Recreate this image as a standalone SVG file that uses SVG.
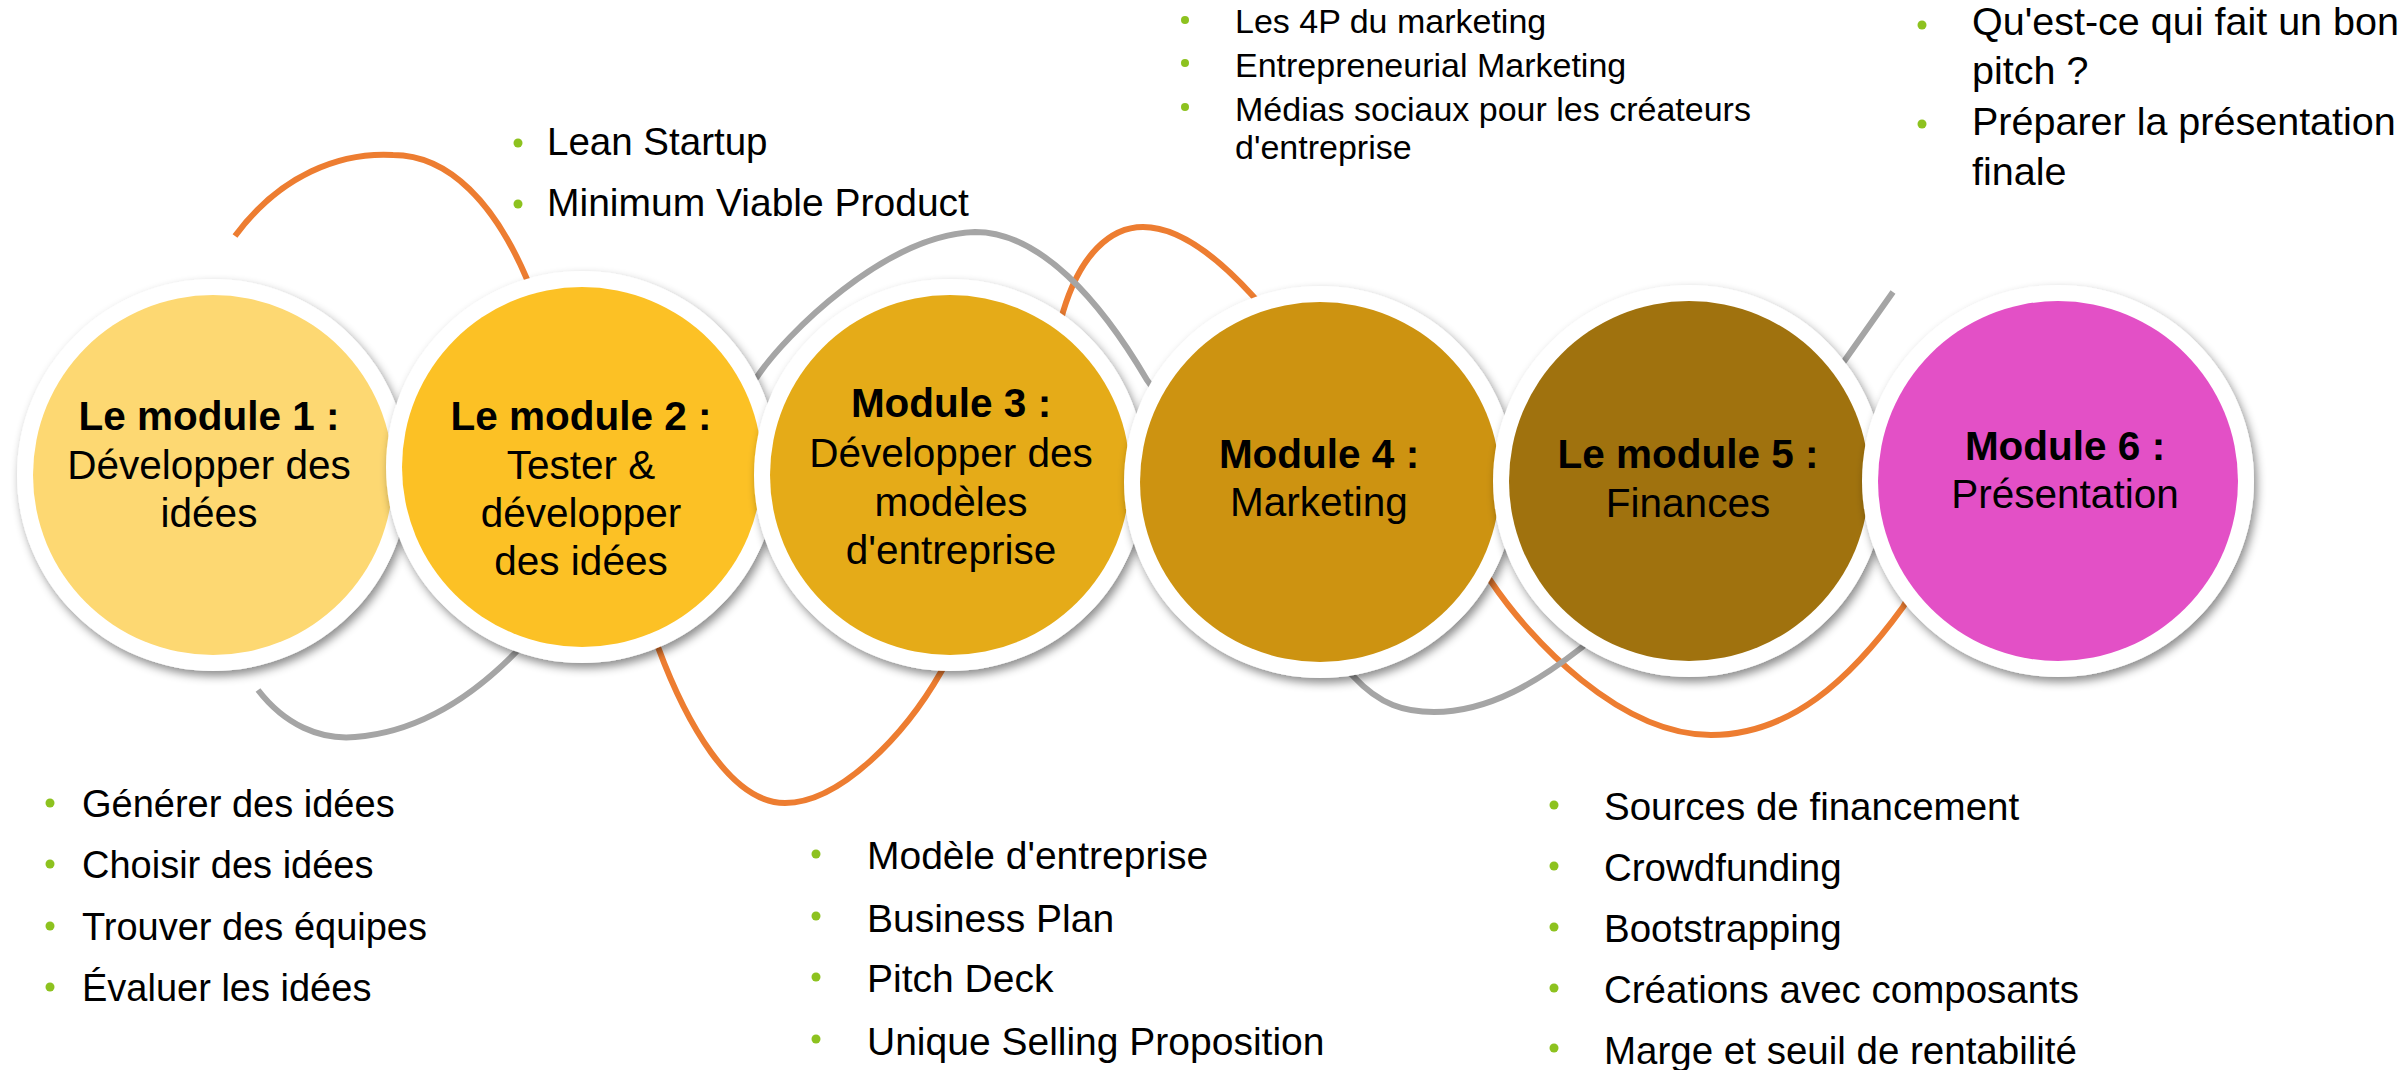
<svg xmlns="http://www.w3.org/2000/svg" width="2402" height="1070" viewBox="0 0 2402 1070">
<defs>
<filter id="sh" x="-20%" y="-20%" width="140%" height="140%">
<feDropShadow dx="3" dy="5" stdDeviation="5" flood-color="#000" flood-opacity="0.45"/>
</filter>
<style>
.ring{fill:#fff;filter:url(#sh)}
.t{font-family:"Liberation Sans",Arial,sans-serif;fill:#000}
.c{font-size:40.5px;text-anchor:middle}
.b{font-weight:bold}
.bul{fill:#8DC21F}
.orange{fill:none;stroke:#ED7D31;stroke-width:6}
.gray{fill:none;stroke:#A5A5A5;stroke-width:6}
</style>
</defs>
<rect width="2402" height="1070" fill="#fff"/>

<g id="connectors">
<path class="orange" d="M235,236 C280,175 340,152 393,155 C450,155 495,205 526,277 C560,357 628,582 658,647 C685,720 730,803 785,803 C840,803 905,735 941,672 C990,590 1040,400 1063,312 C1080,255 1110,227 1143,227 C1180,227 1220,260 1252,295 C1320,370 1440,500 1490,580 C1530,640 1620,735 1711,735 C1790,735 1850,680 1903,607 L1930,560"/>
<path class="gray" d="M258,690 C285,725 320,740 355,737 C420,732 475,695 520,648 C600,570 700,440 757,377 C785,335 885,235 975,232 C1040,232 1100,300 1147,380 C1220,480 1300,620 1354,677 C1380,705 1405,712 1434,712 C1490,712 1540,680 1581,648 C1650,590 1790,440 1845,360 L1893,292"/>
</g>

<g id="module1">
<circle class="ring" cx="213" cy="475" r="196"/>
<circle cx="213" cy="475" r="180" fill="#FDD872"/>
<text class="t c"><tspan class="b" x="209" y="430">Le module 1 :</tspan><tspan x="209" y="479">Développer des</tspan><tspan x="209" y="527">idées</tspan></text>
</g>
<g id="module2">
<circle class="ring" cx="582" cy="467" r="196"/>
<circle cx="582" cy="467" r="180" fill="#FCC125"/>
<text class="t c"><tspan class="b" x="581" y="430">Le module 2 :</tspan><tspan x="581" y="479">Tester &amp;</tspan><tspan x="581" y="527">développer</tspan><tspan x="581" y="575">des idées</tspan></text>
</g>
<g id="module3">
<circle class="ring" cx="950" cy="475" r="196"/>
<circle cx="950" cy="475" r="180" fill="#E5AB18"/>
<text class="t c"><tspan class="b" x="951" y="417">Module 3 :</tspan><tspan x="951" y="467">Développer des</tspan><tspan x="951" y="516">modèles</tspan><tspan x="951" y="564">d'entreprise</tspan></text>
</g>
<g id="module4">
<circle class="ring" cx="1320" cy="482" r="196"/>
<circle cx="1320" cy="482" r="180" fill="#CD9311"/>
<text class="t c"><tspan class="b" x="1319" y="468">Module 4 :</tspan><tspan x="1319" y="516">Marketing</tspan></text>
</g>
<g id="module5">
<circle class="ring" cx="1689" cy="481" r="196"/>
<circle cx="1689" cy="481" r="180" fill="#A0720E"/>
<text class="t c"><tspan class="b" x="1688" y="468">Le module 5 :</tspan><tspan x="1688" y="517">Finances</tspan></text>
</g>
<g id="module6">
<circle class="ring" cx="2058" cy="481" r="196"/>
<circle cx="2058" cy="481" r="180" fill="#E350C6"/>
<text class="t c"><tspan class="b" x="2065" y="460">Module 6 :</tspan><tspan x="2065" y="508">Présentation</tspan></text>
</g>

<g id="list1">
<circle class="bul" cx="50" cy="803" r="4.5"/>
<circle class="bul" cx="50" cy="864" r="4.5"/>
<circle class="bul" cx="50" cy="926" r="4.5"/>
<circle class="bul" cx="50" cy="987" r="4.5"/>
<text class="t" font-size="38" x="82" y="817">Générer des idées</text>
<text class="t" font-size="38" x="82" y="878">Choisir des idées</text>
<text class="t" font-size="38" x="82" y="940">Trouver des équipes</text>
<text class="t" font-size="38" x="82" y="1001">Évaluer les idées</text>
</g>

<g id="list2">
<circle class="bul" cx="518" cy="143" r="4.5"/>
<circle class="bul" cx="518" cy="204" r="4.5"/>
<text class="t" font-size="38.5" x="547" y="155">Lean Startup</text>
<text class="t" font-size="39" x="547" y="216">Minimum Viable Product</text>
</g>

<g id="list3">
<circle class="bul" cx="816" cy="854" r="4.5"/>
<circle class="bul" cx="816" cy="916" r="4.5"/>
<circle class="bul" cx="816" cy="977" r="4.5"/>
<circle class="bul" cx="816" cy="1039" r="4.5"/>
<text class="t" font-size="39" x="867" y="869">Modèle d'entreprise</text>
<text class="t" font-size="39" x="867" y="932">Business Plan</text>
<text class="t" font-size="39" x="867" y="992">Pitch Deck</text>
<text class="t" font-size="39" x="867" y="1055">Unique Selling Proposition</text>
</g>

<g id="list4">
<circle class="bul" cx="1185" cy="20" r="4"/>
<circle class="bul" cx="1185" cy="63" r="4"/>
<circle class="bul" cx="1185" cy="107" r="4"/>
<text class="t" font-size="34" x="1235" y="33">Les 4P du marketing</text>
<text class="t" font-size="34" x="1235" y="77">Entrepreneurial Marketing</text>
<text class="t" font-size="34" x="1235" y="121">Médias sociaux pour les créateurs</text>
<text class="t" font-size="34" x="1235" y="159">d'entreprise</text>
</g>

<g id="list5">
<circle class="bul" cx="1554" cy="805" r="4.5"/>
<circle class="bul" cx="1554" cy="866" r="4.5"/>
<circle class="bul" cx="1554" cy="927" r="4.5"/>
<circle class="bul" cx="1554" cy="988" r="4.5"/>
<circle class="bul" cx="1554" cy="1048" r="4.5"/>
<text class="t" font-size="38.5" x="1604" y="820">Sources de financement</text>
<text class="t" font-size="38.5" x="1604" y="881">Crowdfunding</text>
<text class="t" font-size="38.5" x="1604" y="942">Bootstrapping</text>
<text class="t" font-size="38.5" x="1604" y="1003">Créations avec composants</text>
<text class="t" font-size="38.5" x="1604" y="1064">Marge et seuil de rentabilité</text>
</g>

<g id="list6">
<circle class="bul" cx="1922" cy="25" r="4.5"/>
<circle class="bul" cx="1922" cy="124" r="4.5"/>
<text class="t" font-size="39.5" x="1972" y="35">Qu'est-ce qui fait un bon</text>
<text class="t" font-size="39.5" x="1972" y="84">pitch ?</text>
<text class="t" font-size="39.5" x="1972" y="135">Préparer la présentation</text>
<text class="t" font-size="39.5" x="1972" y="185">finale</text>
</g>
</svg>
